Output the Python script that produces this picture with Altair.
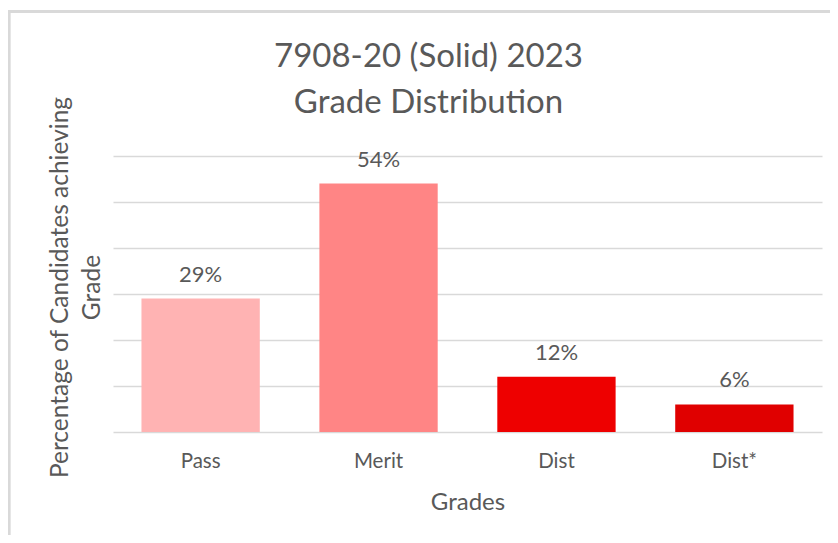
import altair as alt
import pandas as pd

grades = ["Pass", "Merit", "Dist", "Dist*"]
percent = [29, 54, 12, 6]
labels = ["29%", "54%", "12%", "6%"]
colors = ["#FFB3B3", "#FF8585", "#EE0000", "#E00000"]

df = pd.DataFrame({"grade": grades, "pct": percent, "label": labels})

W, H = 709, 276
FONT = "Lato"
GREY = "#595959"

x_enc = alt.X("grade:N", sort=grades, title="Grades",
              scale=alt.Scale(paddingInner=0.335, paddingOuter=0.16),
              axis=alt.Axis(labelAngle=0, labelFont=FONT, labelFontSize=20.5, labelColor=GREY,
                            labelPadding=19, ticks=False, domain=False,
                            titleFont=FONT, titleFontSize=24, titleColor=GREY,
                            titleFontWeight="normal", titlePadding=19))
y_enc = alt.Y("pct:Q", scale=alt.Scale(domain=[0, 60]),
              title=["Percentage of Candidates achieving", "Grade"],
              axis=alt.Axis(values=[0, 10, 20, 30, 40, 50, 60], labels=False, ticks=False,
                            domain=False, grid=True, gridColor="#D9D9D9", gridWidth=1.5,
                            titleFont=FONT, titleFontSize=24.5, titleColor=GREY,
                            titleFontWeight="normal", titleAngle=-90, titleAlign="center",
                            titleBaseline="middle", titleLineHeight=32,
                            titleX=-53, titleY=131))

bars = alt.Chart(df).mark_bar().encode(
    x=x_enc, y=y_enc,
    color=alt.Color("grade:N", sort=grades, scale=alt.Scale(domain=grades, range=colors), legend=None),
)

text = alt.Chart(df).mark_text(font=FONT, fontSize=22, color=GREY, baseline="alphabetic", dy=-17).encode(
    x=alt.X("grade:N", sort=grades), y="pct:Q", text="label:N"
)

border = alt.Chart(df).mark_rect(fill=None, stroke="#D9D9D9", strokeWidth=2.5).encode(
    x=alt.value(-104), x2=alt.value(W + 40), y=alt.value(-144.5), y2=alt.value(H + 140)
)

chart = alt.layer(border, bars, text).properties(
    width=W, height=H,
    autosize=alt.AutoSizeParams(type="none"),
    padding={"left": 105, "top": 148, "right": 8, "bottom": 103},
    title=alt.TitleParams(text=["7908-20 (Solid) 2023", "Grade Distribution"],
                          font=FONT, fontSize=33, color=GREY, fontWeight="normal",
                          lineHeight=46, anchor="middle", dx=-39, offset=0, dy=110),
).configure_view(stroke=None)

chart.save("out.html", embed_options={"renderer": "svg", "actions": False})
